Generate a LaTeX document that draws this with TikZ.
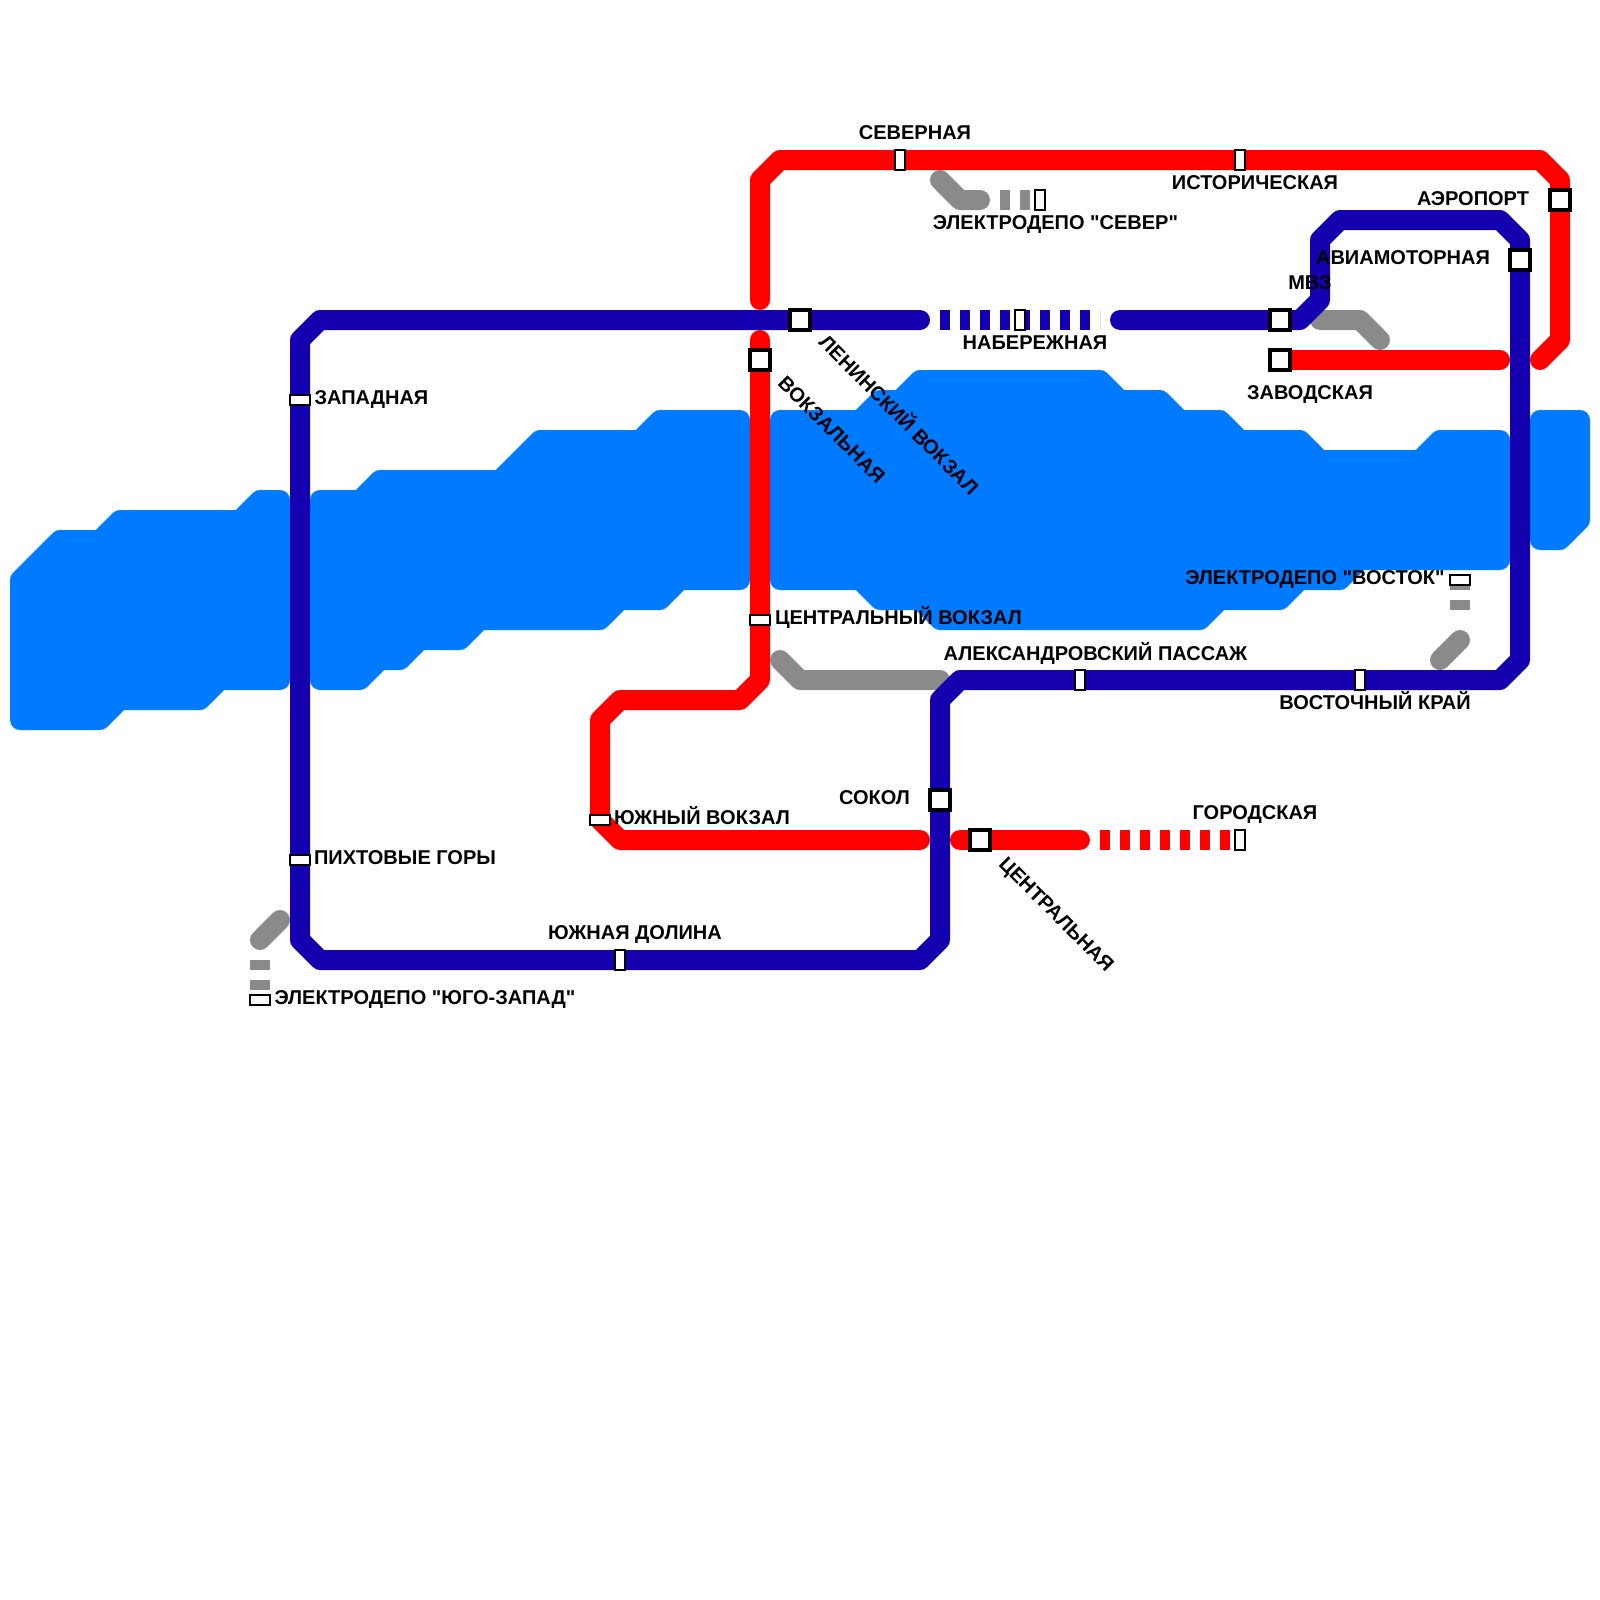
\documentclass[tikz,border=0pt]{standalone}
\usepackage{fontspec}
\newfontfamily\lblfont{Liberation Sans}
\usetikzlibrary{backgrounds}
\definecolor{riverblue}{RGB}{0,122,255}
\definecolor{lineblue}{RGB}{21,0,176}
\definecolor{linered}{RGB}{255,0,0}
\definecolor{linegrey}{RGB}{138,138,138}
\tikzset{
	bigst/.style={draw=black, fill=white, line width=1.6pt, minimum width=10pt, minimum height=10pt, inner sep=0pt},
	tallst/.style={draw=black, fill=white, line width=1pt, minimum width=5pt, minimum height=10pt, inner sep=0pt},
	widest/.style={draw=black, fill=white, line width=1pt, minimum width=10pt, minimum height=5pt, inner sep=0pt},
	lbl/.style={font=\lblfont\fontsize{10pt}{12pt}\selectfont\bfseries, inner sep=0pt, text height=7.2pt, text depth=0pt},
	river/.style={fill=riverblue, draw=riverblue, line width=10pt, line join=round},
	metro/.style={line width=10pt, line join=round, line cap=round},
	metrodash/.style={line width=10pt, dash pattern=on 5pt off 5pt}
}
\begin{document}
\begin{tikzpicture}[x=0.5pt, y=-0.5pt]
	\useasboundingbox (0, 0) rectangle (1600, 1600);

	\node (severnaya) at (900, 160) [tallst] {};
	\node (istoricheskaya) at (1240, 160) [tallst] {};
	\node (depo-sever) at (1040, 200) [tallst] {};
	\node (naberezhnaya) at (1020, 320) [tallst] {};
	\node (gorodskaya) at (1240, 840) [tallst] {};
	\node (yuzhdolina) at (620, 960) [tallst] {};
	\node (passazh) at (1080, 680) [tallst] {};
	\node (vostkray) at (1360, 680) [tallst] {};
	\node (zapadnaya) at (300, 400) [widest] {};
	\node (pikhtovye) at (300, 860) [widest] {};
	\node (yuzhvokzal) at (600, 820) [widest] {};
	\node (centrvokzal) at (760, 620) [widest] {};
	\node (depo-vostok) at (1460, 580) [widest] {};
	\node (depo-yugozapad) at (260, 1000) [widest] {};
	\node (leninskiy) at (800, 320) [bigst] {};
	\node (vokzalnaya) at (760, 360) [bigst] {};
	\node (mvz) at (1280, 320) [bigst] {};
	\node (zavodskaya) at (1280, 360) [bigst] {};
	\node (aeroport) at (1560, 200) [bigst] {};
	\node (aviamotornaya) at (1520, 260) [bigst] {};
	\node (sokol) at (940, 800) [bigst] {};
	\node (centralnaya) at (980, 840) [bigst] {};

	\coordinate (redtop) at (760, 300);
	\coordinate (redmid) at (760, 340);
	\coordinate (redeasta) at (1500, 360);
	\coordinate (redeastb) at (1540, 360);
	\coordinate (redsoutha) at (920, 840);
	\coordinate (redsouthb) at (960, 840);
	\coordinate (redsouthc) at (1080, 840);
	\coordinate (reddash) at (1100, 840);
	\coordinate (bluewest) at (920, 320);
	\coordinate (blueeast) at (1120, 320);
	\coordinate (bluedasha) at (940, 320);
	\coordinate (bluedashb) at (1100, 320);
	\coordinate (greyna) at (940, 180);
	\coordinate (greynb) at (980, 200);
	\coordinate (greync) at (1000, 200);
	\coordinate (greyea) at (1320, 320);
	\coordinate (greyeb) at (1380, 340);
	\coordinate (greyca) at (780, 660);
	\coordinate (greycb) at (940, 680);
	\coordinate (greyva) at (1440, 660);
	\coordinate (greyvb) at (1460, 640);
	\coordinate (greyvc) at (1460, 610);
	\coordinate (greywa) at (280, 920);
	\coordinate (greywb) at (260, 940);
	\coordinate (greywc) at (260, 960);

	\begin{scope}[on background layer]
		\path[river] (20, 580) -- (60, 540) -- (100, 540) -- (120, 520) -- (240, 520) -- (260, 500) -- (280, 500) -- (280, 680) -- (220, 680) -- (200, 700) -- (120, 700) -- (100, 720) -- (20, 720) -- cycle;
		\path[river] (320, 500) -- (360, 500) -- (380, 480) -- (500, 480) -- (540, 440) -- (640, 440) -- (660, 420) -- (740, 420) -- (740, 580) -- (680, 580) -- (660, 600) -- (620, 600) -- (600, 620) -- (480, 620) -- (460, 640) -- (420, 640) -- (400, 660) -- (380, 660) -- (360, 680) -- (320, 680) -- cycle;
		\path[river] (780, 420) -- (860, 420) -- (880, 400) -- (900, 400) -- (920, 380) -- (1100, 380) -- (1120, 400) -- (1160, 400) -- (1180, 420) -- (1220, 420) -- (1240, 440) -- (1300, 440) -- (1320, 460) -- (1420, 460) -- (1440, 440) -- (1500, 440) -- (1500, 560) -- (1360, 560) -- (1340, 580) -- (1300, 580) -- (1280, 600) -- (1220, 600) -- (1200, 620) -- (940, 620) -- (920, 600) -- (880, 600) -- (860, 580) -- (780, 580) -- cycle;
		\path[river] (1540, 420) -- (1580, 420) -- (1580, 520) -- (1560, 540) -- (1540, 540) -- cycle;

		\draw[metro, linegrey] (greyna) -- (960, 200) -- (greynb);
		\draw[metrodash, linegrey] (greync) -- (depo-sever.center);
		\draw[metro, linegrey] (greyea) -- (1360, 320) -- (greyeb);
		\draw[metro, linegrey] (greyca) -- (800, 680) -- (greycb);
		\draw[metro, linegrey] (greyva) -- (greyvb);
		\draw[metrodash, linegrey] (greyvc) -- (depo-vostok.center);
		\draw[metro, linegrey] (greywa) -- (greywb);
		\draw[metrodash, linegrey] (greywc) -- (depo-yugozapad.center);

		\draw[metro, linered] (redtop) -- (760, 180) -- (780, 160) -- (severnaya.center) -- (istoricheskaya.center) -- (1540, 160) -- (1560, 180) -- (aeroport.center) -- (1560, 340) -- (redeastb);
		\draw[metro, linered] (zavodskaya.center) -- (redeasta);
		\draw[metro, linered] (redmid) -- (vokzalnaya.center) -- (centrvokzal.center) -- (760, 680) -- (740, 700) -- (620, 700) -- (600, 720) -- (yuzhvokzal.center) -- (620, 840) -- (redsoutha);
		\draw[metro, linered] (redsouthb) -- (centralnaya.center) -- (redsouthc);
		\draw[metrodash, linered] (reddash) -- (gorodskaya.center);

		\draw[metro, lineblue] (bluewest) -- (leninskiy.center) -- (320, 320) -- (300, 340) -- (zapadnaya.center) -- (pikhtovye.center) -- (300, 940) -- (320, 960) -- (yuzhdolina.center) -- (920, 960) -- (940, 940) -- (sokol.center) -- (940, 700) -- (960, 680) -- (passazh.center) -- (vostkray.center) -- (1500, 680) -- (1520, 660) -- (aviamotornaya.center) -- (1520, 240) -- (1500, 220) -- (1340, 220) -- (1320, 240) -- (1320, 300) -- (1300, 320) -- (mvz.center) -- (blueeast);
		\draw[metrodash, lineblue] (bluedasha) -- (bluedashb);
	\end{scope}

	\node (lb-severnaya) at (915, 132) [lbl] {СЕВЕРНАЯ};
	\node (lb-istoricheskaya) at (1255, 182.5) [lbl] {ИСТОРИЧЕСКАЯ};
	\node (lb-depo-sever) at (1055.5, 222.5) [lbl] {ЭЛЕКТРОДЕПО "СЕВЕР"};
	\node (lb-naberezhnaya) at (1035, 342) [lbl] {НАБЕРЕЖНАЯ};
	\node (lb-aeroport) at (1473, 198) [lbl] {АЭРОПОРТ};
	\node (lb-aviamotornaya) at (1403, 257.5) [lbl] {АВИАМОТОРНАЯ};
	\node (lb-mvz) at (1310, 282) [lbl] {МВЗ};
	\node (lb-zavodskaya) at (1310, 392) [lbl] {ЗАВОДСКАЯ};
	\node (lb-zapadnaya) at (371.5, 397.5) [lbl] {ЗАПАДНАЯ};
	\node (lb-depo-vostok) at (1315, 577.5) [lbl] {ЭЛЕКТРОДЕПО "ВОСТОК"};
	\node (lb-vostkray) at (1375, 702) [lbl] {ВОСТОЧНЫЙ КРАЙ};
	\node (lb-passazh) at (1095.5, 653) [lbl] {АЛЕКСАНДРОВСКИЙ ПАССАЖ};
	\node (lb-centrvokzal) at (898.5, 617.5) [lbl] {ЦЕНТРАЛЬНЫЙ ВОКЗАЛ};
	\node (lb-sokol) at (874.5, 797) [lbl] {СОКОЛ};
	\node (lb-yuzhvokzal) at (702, 817.5) [lbl] {ЮЖНЫЙ ВОКЗАЛ};
	\node (lb-pikhtovye) at (405, 857.5) [lbl] {ПИХТОВЫЕ ГОРЫ};
	\node (lb-yuzhdolina) at (635, 932) [lbl] {ЮЖНАЯ ДОЛИНА};
	\node (lb-depo-yugozapad) at (425, 997.5) [lbl] {ЭЛЕКТРОДЕПО "ЮГО-ЗАПАД"};
	\node (lb-gorodskaya) at (1255, 812) [lbl] {ГОРОДСКАЯ};
	\node (lb-leninskiy) at (899, 415) [lbl, rotate=-45] {ЛЕНИНСКИЙ ВОКЗАЛ};
	\node (lb-vokzalnaya) at (832, 429.5) [lbl, rotate=-45] {ВОКЗАЛЬНАЯ};
	\node (lb-centralnaya) at (1057, 914) [lbl, rotate=-45] {ЦЕНТРАЛЬНАЯ};
\end{tikzpicture}
\end{document}
